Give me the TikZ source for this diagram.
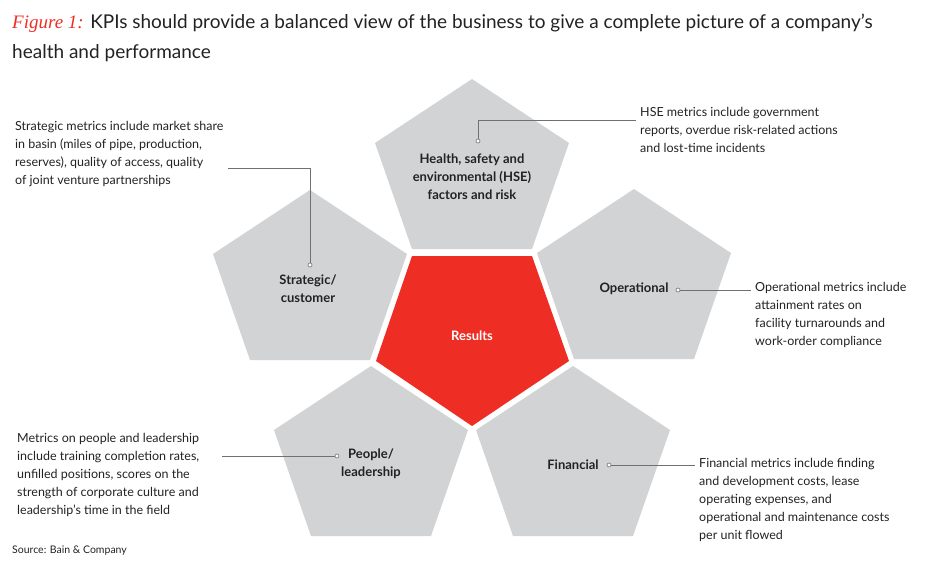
\documentclass[tikz,border=0pt]{standalone}
\usepackage{fontspec}
\setmainfont{Lato}
\newfontfamily\scriptf{Liberation Serif}
\definecolor{pgray}{HTML}{D2D3D5}
\definecolor{pred}{HTML}{EE2D24}
\definecolor{lgray}{HTML}{707070}
\definecolor{txt}{HTML}{222222}
\tikzset{
 body/.style={anchor=north west,align=left,inner sep=0pt,font=\fontsize{12.5}{18}\selectfont,text=txt},
 lbl/.style={align=center,font=\bfseries\fontsize{13}{18}\selectfont,text=txt,inner sep=1pt},
 lead/.style={draw=lgray,line width=0.7pt},
 dot/.style={circle,draw=lgray,fill=white,inner sep=0pt,minimum size=4pt,line width=0.6pt}
}
\newcommand{\upgon}[3]{\fill[#3] (#1,#2) -- ++(97,64) -- ++(-37,106) -- ++(-120,0) -- ++(-37,-106) -- cycle;}
\begin{document}
\begin{tikzpicture}[x=1pt,y=-1pt]
\useasboundingbox (0,0) rectangle (950,566);
\upgon{472}{79}{pgray}
\upgon{310}{190}{pgray}
\upgon{634}{189}{pgray}
\upgon{371}{366}{pgray}
\upgon{573}{366}{pgray}
\fill[pred] (412,256) -- (532,256) -- (569,361) -- (472,426) -- (376,361) -- cycle;
\node[anchor=base west,inner sep=0pt,font=\fontsize{19}{24}\selectfont,text=txt] (title1) at (12,28) {{\color{pred}\scriptf\itshape Figure 1:} KPIs should provide a balanced view of the business to give a complete picture of a company’s};
\node[anchor=base west,inner sep=0pt,font=\fontsize{19}{24}\selectfont,text=txt] (title2) at (12,58) {health and performance};
\node[lbl] (hse) at (472,177) {Health, safety and\\environmental (HSE)\\factors and risk};
\node[lbl] (str) at (308,289) {Strategic/\\customer};
\node[lbl] (ope) at (634,289) {Operational};
\node[lbl,text=white] (res) at (472,336) {Results};
\node[lbl] (peo) at (371,464) {People/\\leadership};
\node[lbl] (fin) at (573,465) {Financial};
\node[body] (tstr) at (15,121) {Strategic metrics include market share\\in basin (miles of pipe, production,\\reserves), quality of access, quality\\of joint venture partnerships};
\node[body] (thse) at (640,107) {HSE metrics include government\\reports, overdue risk-related actions\\and lost-time incidents};
\node[body] (tope) at (755,282) {Operational metrics include\\attainment rates on\\facility turnarounds and\\work-order compliance};
\node[body] (tpeo) at (17,433) {Metrics on people and leadership\\include training completion rates,\\unfilled positions, scores on the\\strength of corporate culture and\\leadership’s time in the field};
\node[body] (tfin) at (699,458) {Financial metrics include finding\\and development costs, lease\\operating expenses, and\\operational and maintenance costs\\per unit flowed};
\node[anchor=base west,inner sep=0pt,font=\fontsize{10.5}{12}\selectfont,text=txt] (src) at (12,553) {Source: Bain \& Company};
\node[dot] (dstr) at (310,265) {};
\node[dot] (dhse) at (478,141) {};
\node[dot] (dope) at (678,290) {};
\node[dot] (dpeo) at (337,456) {};
\node[dot] (dfin) at (609,465) {};
\coordinate (estr) at (228,168);
\coordinate (ehse) at (636,120);
\coordinate (eope) at (751,290);
\coordinate (epeo) at (222,456);
\coordinate (efin) at (695,465);
\draw[lead] (estr) -| (dstr);
\draw[lead] (ehse) -| (dhse);
\draw[lead] (dope) -- (eope);
\draw[lead] (epeo) -- (dpeo);
\draw[lead] (dfin) -- (efin);
\end{tikzpicture}
\end{document}
